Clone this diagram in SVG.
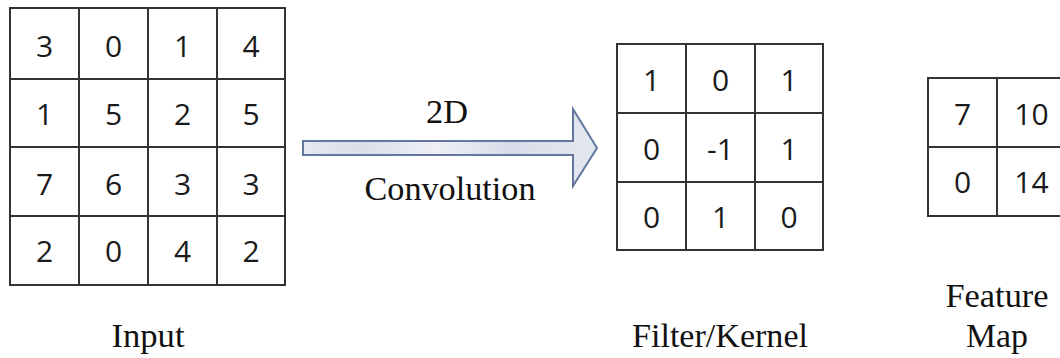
<svg xmlns="http://www.w3.org/2000/svg" width="1060" height="358" viewBox="0 0 1060 358">
<style>
.cell{fill:#ffffff;stroke:#333333;stroke-width:2}
.num{font-family:"Open Sans","Noto Sans",sans-serif;font-size:30px;fill:#1a1a1a;text-anchor:middle}
.lbl{font-family:"Liberation Serif","Times New Roman",serif;font-size:33px;fill:#111111;text-anchor:middle}
</style>
<defs>
<linearGradient id="tex" x1="0" y1="0" x2="1" y2="0">
<stop offset="0" stop-color="#e6e9f1"/>
<stop offset="0.2" stop-color="#d9dee9"/>
<stop offset="0.45" stop-color="#eef0f5"/>
<stop offset="0.7" stop-color="#d7dce8"/>
<stop offset="1" stop-color="#e4e8f0"/>
</linearGradient>
</defs>
<rect width="1060" height="358" fill="#ffffff"/>

<g id="input">
<rect class="cell" x="10" y="8" width="275" height="277"/>
<path d="M79 8V285M148 8V285M217 8V285M10 79H285M10 147H285M10 216H285" stroke="#333333" stroke-width="2" fill="none"/>
<g class="num">
<text x="44.5" y="57">3</text><text x="113.5" y="57">0</text><text x="182.5" y="57">1</text><text x="251" y="57">4</text>
<text x="44.5" y="125">1</text><text x="113.5" y="125">5</text><text x="182.5" y="125">2</text><text x="251" y="125">5</text>
<text x="44.5" y="195">7</text><text x="113.5" y="195">6</text><text x="182.5" y="195">3</text><text x="251" y="195">3</text>
<text x="44.5" y="262">2</text><text x="113.5" y="262">0</text><text x="182.5" y="262">4</text><text x="251" y="262">2</text>
</g>
<text class="lbl" x="148" y="347" textLength="73" lengthAdjust="spacingAndGlyphs">Input</text>
</g>

<g id="connectors">
<path d="M303 141H573V109L597 148L573 186V155H303Z" fill="url(#tex)" stroke="#62769e" stroke-width="2" stroke-linejoin="miter"/>
<text class="lbl" x="447" y="123" textLength="42" lengthAdjust="spacingAndGlyphs">2D</text>
<text class="lbl" x="450" y="200" textLength="171" lengthAdjust="spacingAndGlyphs">Convolution</text>
</g>

<g id="filter">
<rect class="cell" x="617" y="44" width="206" height="206"/>
<path d="M686 44V250M755 44V250M617 113H823M617 182H823" stroke="#333333" stroke-width="2" fill="none"/>
<g class="num">
<text x="651.5" y="91">1</text><text x="720.5" y="91">0</text><text x="789" y="91">1</text>
<text x="651.5" y="160">0</text><text x="720.5" y="160">-1</text><text x="789" y="160">1</text>
<text x="651.5" y="228">0</text><text x="720.5" y="228">1</text><text x="789" y="228">0</text>
</g>
<text class="lbl" x="720" y="347" textLength="176" lengthAdjust="spacingAndGlyphs">Filter/Kernel</text>
</g>

<g id="feature-map">
<rect class="cell" x="928" y="78" width="140" height="138"/>
<path d="M997 78V216M928 147H1068" stroke="#333333" stroke-width="2" fill="none"/>
<g class="num">
<text x="962.5" y="125">7</text><text x="1031.5" y="125">10</text>
<text x="962.5" y="193">0</text><text x="1031.5" y="193">14</text>
</g>
<text class="lbl" x="997" y="307" textLength="103" lengthAdjust="spacingAndGlyphs">Feature</text>
<text class="lbl" x="997" y="347" textLength="62" lengthAdjust="spacingAndGlyphs">Map</text>
</g>
</svg>
